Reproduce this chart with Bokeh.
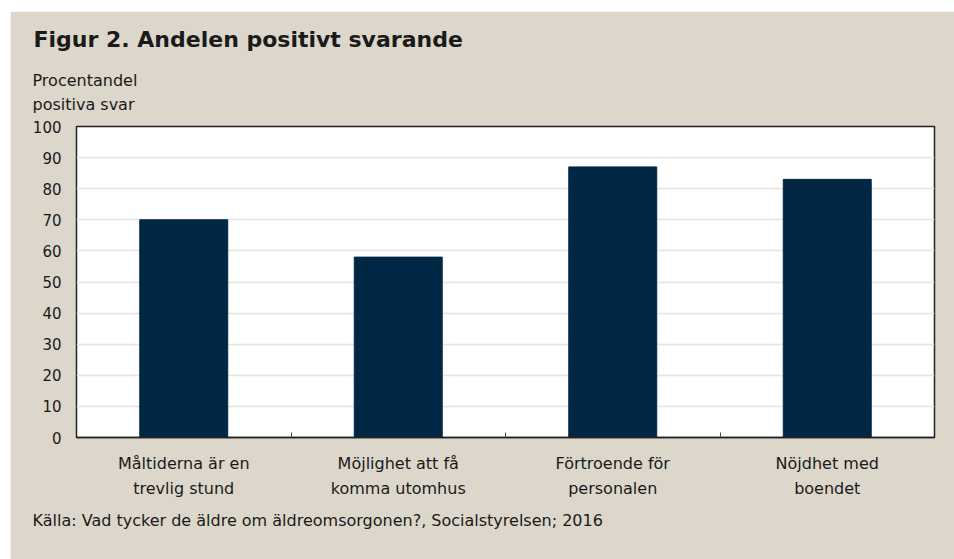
from bokeh.plotting import figure
from bokeh.models import Range1d, FixedTicker, Title
from bokeh.embed import file_html
from bokeh.resources import INLINE
import numpy as np

categories = ["Måltiderna är en\ntrevlig stund", "Möjlighet att få\nkomma utomhus",
              "Förtroende för\npersonalen", "Nöjdhet med\nboendet"]
values = [70, 58, 87, 83]
y_ticks = [0, 10, 20, 30, 40, 50, 60, 70, 80, 90, 100]
title_text = "Figur 2. Andelen positivt svarande"
ylabel_text = "Procentandel\npositiva svar"
source_text = "Källa: Vad tycker de äldre om äldreomsorgonen?, Socialstyrelsen; 2016"

FONT = "DejaVu Sans"
BEIGE = "#DCD6CB"
NAVY = "#002845"
TXT = "#1a1a1a"

xs = np.arange(len(categories)) + 0.5

p = figure(width=944, height=548, output_backend="svg", toolbar_location=None,
           x_range=Range1d(0, len(categories)), y_range=Range1d(0, 100),
           min_border_left=66, min_border_right=20, min_border_top=115, min_border_bottom=122,
           margin=(11, 0, 0, 10))
p.border_fill_color = BEIGE
p.background_fill_color = "white"
p.outline_line_color = "#222222"
p.outline_line_width = 1.5

p.vbar(x=xs, top=values, width=0.41, fill_color=NAVY, line_color=NAVY)

# titles
p.title.text = title_text
p.title.align = "left"
p.title.offset = -43
p.title.text_font = FONT
p.title.text_font_size = "22px"
p.title.text_font_style = "bold"
p.title.text_color = TXT
p.title.standoff = 10

p.add_layout(Title(text=ylabel_text, align="left", offset=-44, text_font=FONT,
                   text_font_size="16px", text_font_style="normal", text_color=TXT,
                   text_line_height=1.3, standoff=24), "above")

# x axis
p.xaxis.ticker = FixedTicker(ticks=list(xs), minor_ticks=list(np.arange(1, len(categories))))
p.xaxis.major_label_overrides = {float(x): c for x, c in zip(xs, categories)}
p.xaxis.major_tick_in = 0
p.xaxis.major_tick_out = 0
p.xaxis.minor_tick_in = 5
p.xaxis.minor_tick_out = 0
p.xaxis.minor_tick_line_color = "#444444"
p.xaxis.axis_line_color = "#222222"
p.xaxis.axis_line_width = 1.5
p.xaxis.major_label_text_font = FONT
p.xaxis.major_label_text_font_size = "16px"
p.xaxis.major_label_text_color = TXT
p.xaxis.major_label_text_line_height = 1.35
p.xaxis.major_label_standoff = 16

p.add_layout(Title(text=source_text, align="left", offset=-44, text_font=FONT,
                   text_font_size="16px", text_font_style="normal", text_color=TXT,
                   standoff=14), "below")

# y axis
p.yaxis.ticker = FixedTicker(ticks=y_ticks)
p.yaxis.major_tick_in = 0
p.yaxis.major_tick_out = 0
p.yaxis.minor_tick_line_color = None
p.yaxis.axis_line_color = None
p.yaxis.major_label_text_font = FONT
p.yaxis.major_label_text_font_size = "15px"
p.yaxis.major_label_text_color = TXT
p.yaxis.major_label_standoff = 15

p.xgrid.grid_line_color = None
p.ygrid.grid_line_color = "#E8E4DD"
p.ygrid.grid_line_width = 1.5

open("out.html", "w").write(file_html(p, INLINE))
